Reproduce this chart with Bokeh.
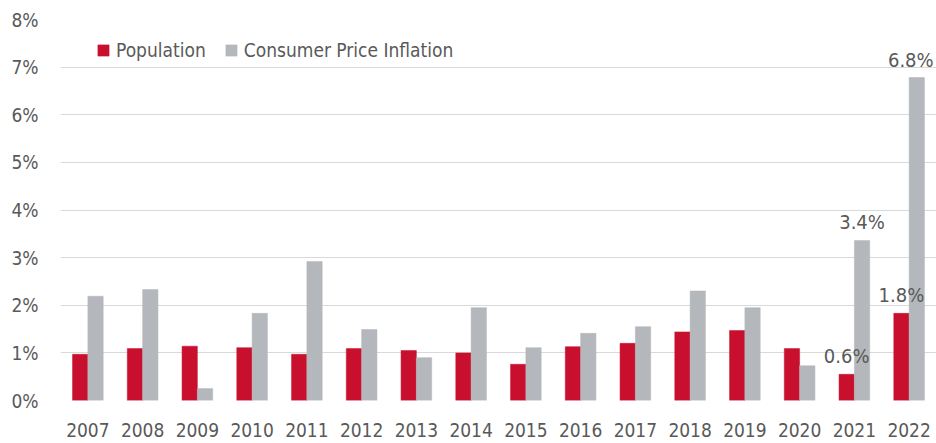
from bokeh.plotting import figure
from bokeh.models import ColumnDataSource, FactorRange, Range1d, FixedTicker, Legend, LegendItem
from bokeh.transform import dodge
from bokeh.core.properties import value
from bokeh.embed import file_html
from bokeh.resources import INLINE

years = ["2007", "2008", "2009", "2010", "2011", "2012", "2013", "2014",
         "2015", "2016", "2017", "2018", "2019", "2020", "2021", "2022"]
population = [0.97, 1.09, 1.14, 1.11, 0.97, 1.09, 1.05, 1.00,
              0.76, 1.13, 1.20, 1.44, 1.47, 1.09, 0.55, 1.83]
inflation = [2.19, 2.33, 0.25, 1.83, 2.92, 1.49, 0.90, 1.95,
             1.11, 1.41, 1.55, 2.30, 1.95, 0.73, 3.36, 6.78]
y_ticks = [0, 1, 2, 3, 4, 5, 6, 7, 8]
y_tick_labels = ["0%", "1%", "2%", "3%", "4%", "5%", "6%", "7%", "8%"]

# annotated values
pop_label_years = ["2021", "2022"]
pop_label_values = [0.55, 1.83]
pop_label_texts = ["0.6%", "1.8%"]
cpi_label_years = ["2021", "2022"]
cpi_label_values = [3.36, 6.78]
cpi_label_texts = ["3.4%", "6.8%"]

FONT = "DejaVu Sans Condensed"
TEXT_COLOR = "#595959"
RED = "#c8102e"
GRAY = "#b4b7bb"

src = ColumnDataSource(dict(years=years, population=population, inflation=inflation))

p = figure(width=936, height=443, x_range=FactorRange(*years, range_padding=0),
           y_range=Range1d(0, 8), output_backend="svg", toolbar_location=None,
           min_border_left=60, min_border_right=0, min_border_top=19, min_border_bottom=43)
p.outline_line_color = None

BW = 0.28
r_pop = p.vbar(x=dodge("years", -BW / 2, range=p.x_range), top="population", width=BW,
               source=src, fill_color=RED, line_color=RED, line_width=0.5)
r_cpi = p.vbar(x=dodge("years", BW / 2, range=p.x_range), top="inflation", width=BW,
               source=src, fill_color=GRAY, line_color=GRAY, line_width=0.5)

lsrc1 = ColumnDataSource(dict(x=pop_label_years, y=pop_label_values, t=pop_label_texts,
                              dx=[0, 0]))
lsrc2 = ColumnDataSource(dict(x=cpi_label_years, y=cpi_label_values, t=cpi_label_texts,
                              dx=[0, -6]))
for s, off in ((lsrc1, -BW / 2), (lsrc2, BW / 2)):
    p.text(x=dodge("x", off, range=p.x_range), y="y", text="t", source=s,
           text_align="center", text_baseline="alphabetic", y_offset=-18, x_offset="dx",
           text_font=value(FONT), text_font_size="20px", text_color=TEXT_COLOR)

# grid
p.xgrid.grid_line_color = None
p.ygrid.ticker = FixedTicker(ticks=y_ticks)
p.ygrid.grid_line_color = "#d9d9d9"
p.ygrid.grid_line_width = 1

# axes
p.yaxis.ticker = FixedTicker(ticks=y_ticks)
p.yaxis.major_label_overrides = {t: l for t, l in zip(y_ticks, y_tick_labels)}
for ax in (p.xaxis[0], p.yaxis[0]):
    ax.axis_line_color = None
    ax.major_tick_line_color = None
    ax.minor_tick_line_color = None
    ax.major_tick_out = 0
    ax.major_tick_in = 0
    ax.major_label_text_font = FONT
    ax.major_label_text_font_size = "19px"
    ax.major_label_text_color = TEXT_COLOR
p.yaxis.major_label_standoff = 22
p.xaxis.major_label_standoff = 22

legend = Legend(items=[LegendItem(label="Population", renderers=[r_pop]),
                       LegendItem(label="Consumer Price Inflation", renderers=[r_cpi])],
                orientation="horizontal", location=(36, 339), padding=0, margin=0,
                spacing=18, glyph_width=14, glyph_height=14, label_standoff=6,
                label_text_font=FONT, label_text_font_size="19px",
                label_text_color=TEXT_COLOR, border_line_color=None,
                background_fill_alpha=0)
p.add_layout(legend)

open("out.html", "w").write(file_html(p, INLINE))
